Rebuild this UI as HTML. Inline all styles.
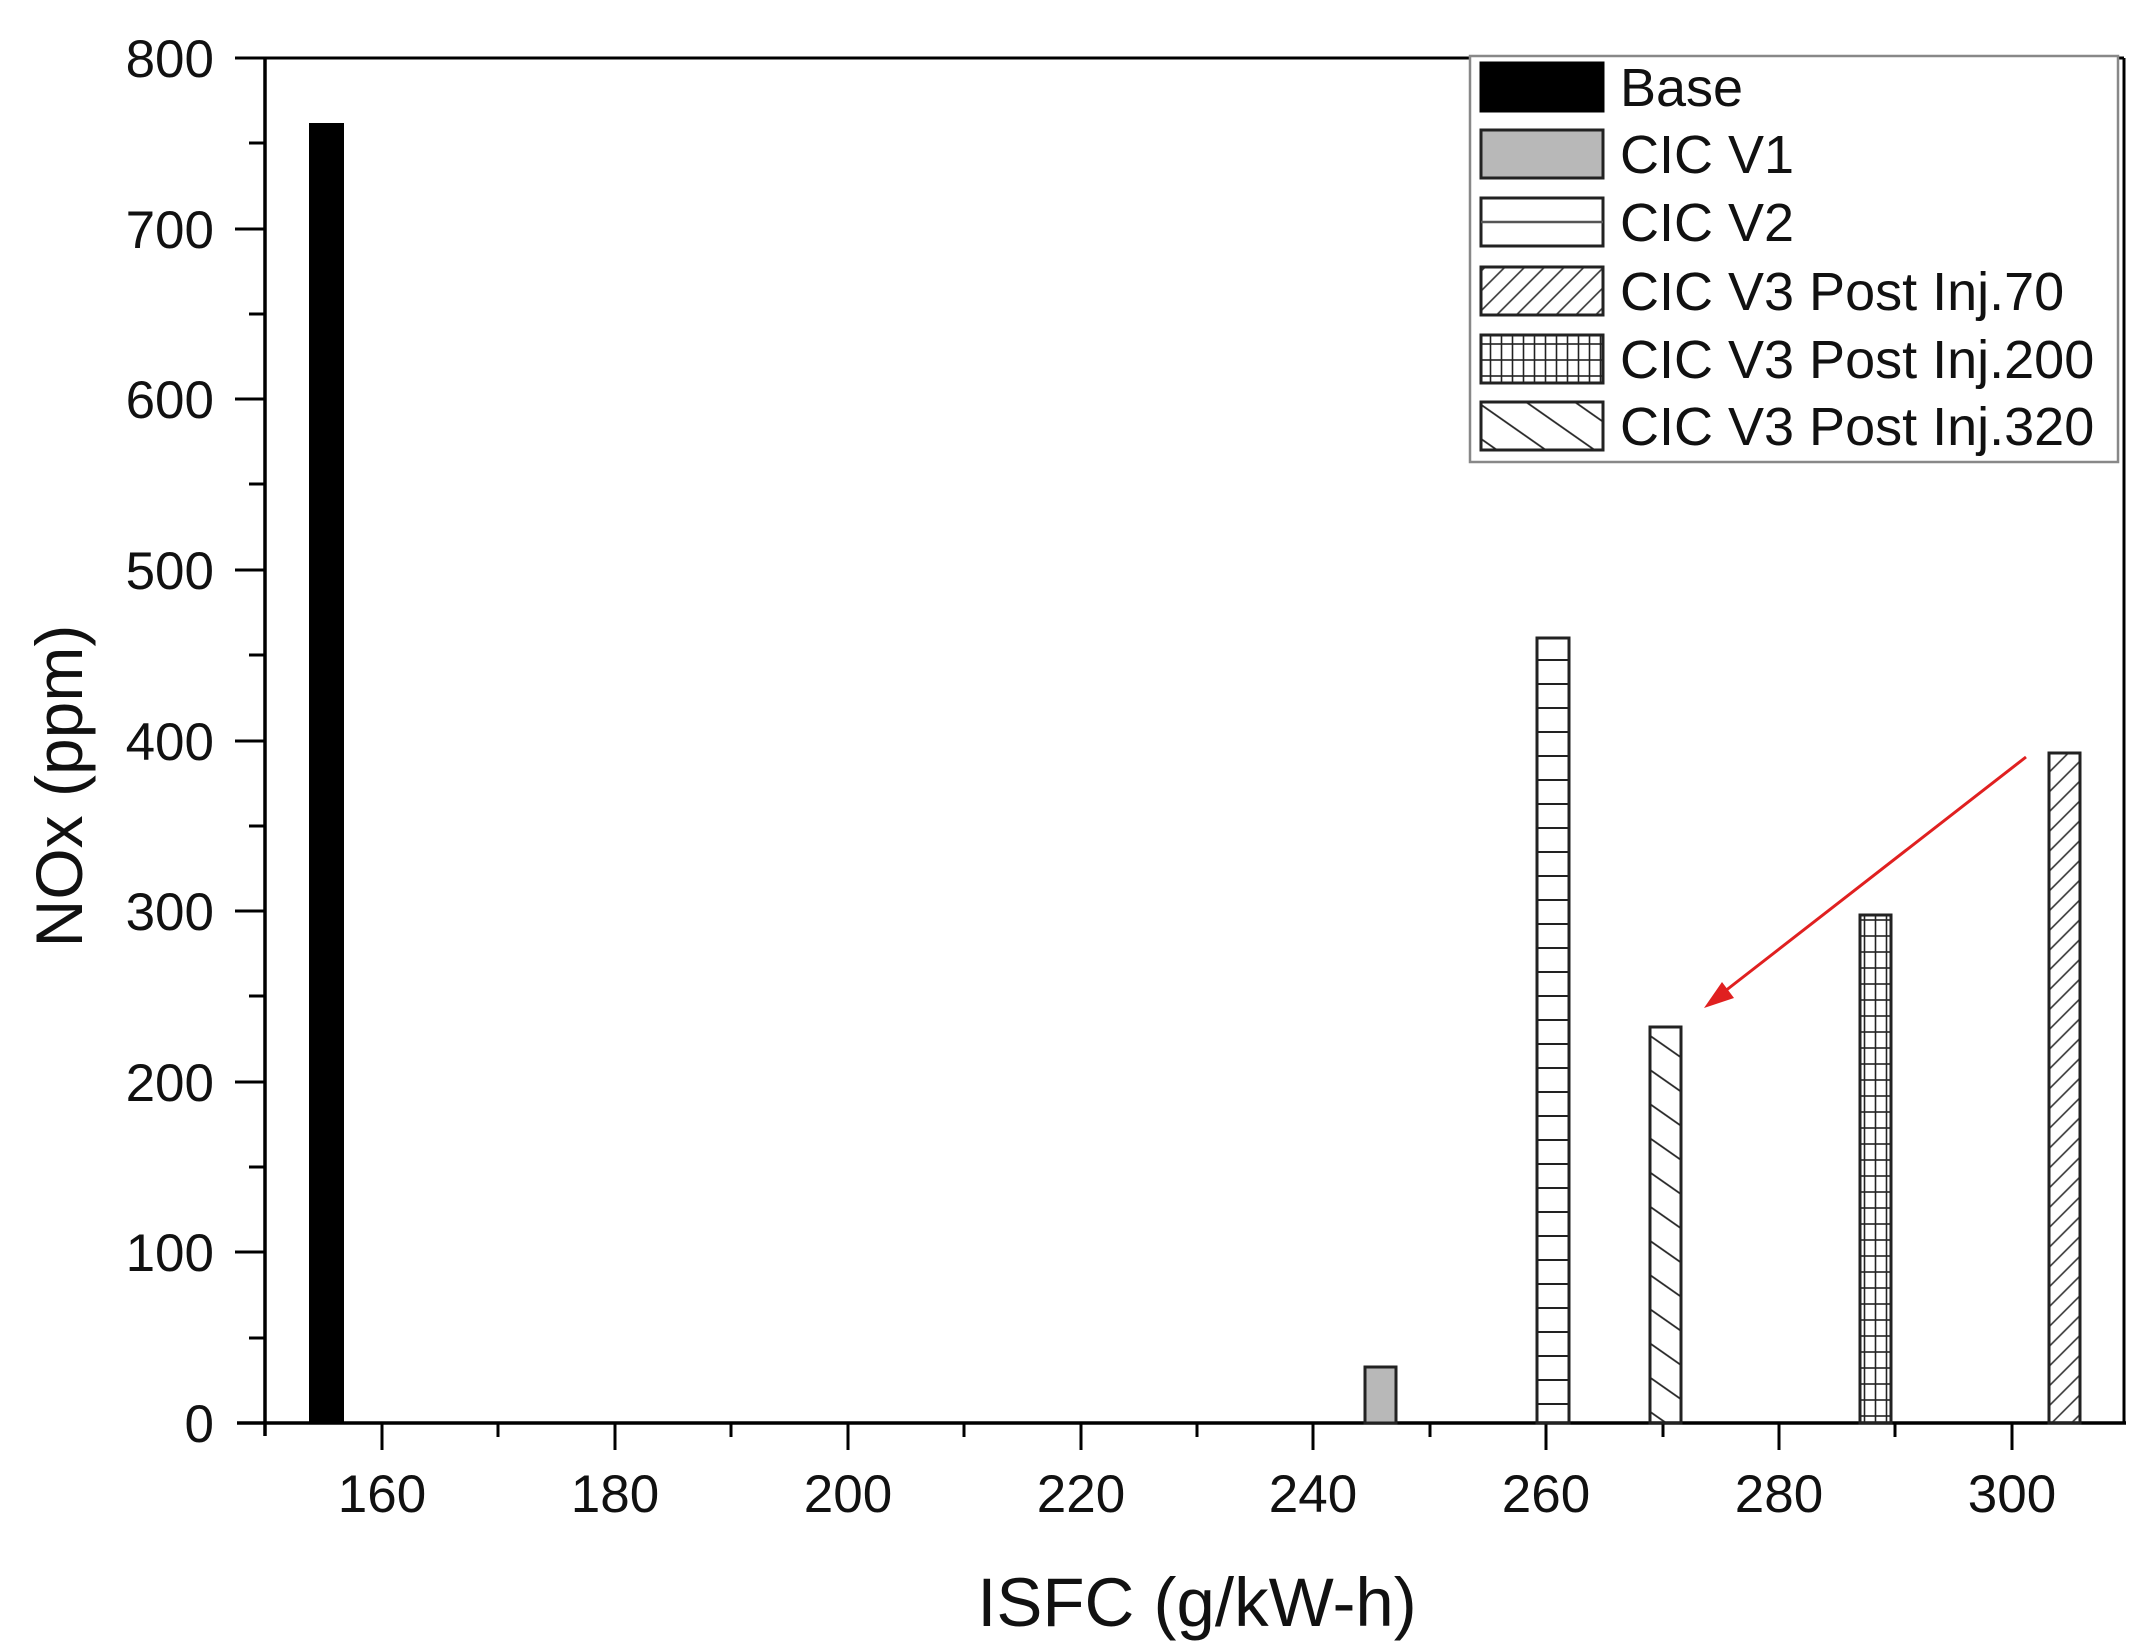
<!DOCTYPE html>
<html><head><meta charset="utf-8"><style>html,body{margin:0;padding:0;background:#fff}svg{display:block}</style></head>
<body>
<svg width="2156" height="1652" viewBox="0 0 2156 1652" xmlns="http://www.w3.org/2000/svg" font-family="Liberation Sans, Arial, sans-serif">
<defs>
<pattern id="hz" patternUnits="userSpaceOnUse" width="40" height="24"><line x1="0" y1="12" x2="40" y2="12" stroke="#222" stroke-width="2"/></pattern>
<pattern id="grid" patternUnits="userSpaceOnUse" width="11" height="16"><line x1="0" y1="8" x2="11" y2="8" stroke="#222" stroke-width="1.6"/><line x1="5.5" y1="0" x2="5.5" y2="16" stroke="#222" stroke-width="1.6"/></pattern>
<pattern id="d70" patternUnits="userSpaceOnUse" width="14" height="14" patternTransform="rotate(-45)"><line x1="0" y1="7" x2="14" y2="7" stroke="#333" stroke-width="1.6"/></pattern>
<pattern id="d320" patternUnits="userSpaceOnUse" width="28" height="28" patternTransform="rotate(35)"><line x1="0" y1="14" x2="28" y2="14" stroke="#222" stroke-width="1.8"/></pattern>
</defs>
<rect width="2156" height="1652" fill="#fff"/>
<line x1="265" y1="58" x2="2124" y2="58" stroke="#000" stroke-width="3"/>
<line x1="2124" y1="58" x2="2124" y2="1423" stroke="#000" stroke-width="3"/>
<line x1="237" y1="1423" x2="2126" y2="1423" stroke="#000" stroke-width="3.5"/>
<line x1="265" y1="58" x2="265" y2="1436" stroke="#000" stroke-width="3.5"/>
<line x1="235" y1="58" x2="265" y2="58" stroke="#000" stroke-width="3"/>
<g stroke="#000" stroke-width="3">
<line x1="235" y1="229" x2="265" y2="229"/><line x1="235" y1="399" x2="265" y2="399"/><line x1="235" y1="570" x2="265" y2="570"/><line x1="235" y1="741" x2="265" y2="741"/><line x1="235" y1="911" x2="265" y2="911"/><line x1="235" y1="1082" x2="265" y2="1082"/><line x1="235" y1="1252" x2="265" y2="1252"/>
<line x1="249" y1="143" x2="265" y2="143"/><line x1="249" y1="314" x2="265" y2="314"/><line x1="249" y1="484" x2="265" y2="484"/><line x1="249" y1="655" x2="265" y2="655"/><line x1="249" y1="826" x2="265" y2="826"/><line x1="249" y1="996" x2="265" y2="996"/><line x1="249" y1="1167" x2="265" y2="1167"/><line x1="249" y1="1338" x2="265" y2="1338"/>
<line x1="382" y1="1423" x2="382" y2="1450"/><line x1="615" y1="1423" x2="615" y2="1450"/><line x1="848" y1="1423" x2="848" y2="1450"/><line x1="1081" y1="1423" x2="1081" y2="1450"/><line x1="1313" y1="1423" x2="1313" y2="1450"/><line x1="1546" y1="1423" x2="1546" y2="1450"/><line x1="1779" y1="1423" x2="1779" y2="1450"/><line x1="2012" y1="1423" x2="2012" y2="1450"/>
<line x1="498" y1="1423" x2="498" y2="1437"/><line x1="731" y1="1423" x2="731" y2="1437"/><line x1="964" y1="1423" x2="964" y2="1437"/><line x1="1197" y1="1423" x2="1197" y2="1437"/><line x1="1430" y1="1423" x2="1430" y2="1437"/><line x1="1663" y1="1423" x2="1663" y2="1437"/><line x1="1895" y1="1423" x2="1895" y2="1437"/>
</g>
<g font-size="53" fill="#111" text-anchor="end">
<text x="214" y="77">800</text><text x="214" y="248">700</text><text x="214" y="418">600</text><text x="214" y="589">500</text><text x="214" y="760">400</text><text x="214" y="930">300</text><text x="214" y="1101">200</text><text x="214" y="1271">100</text><text x="214" y="1442">0</text>
</g>
<g font-size="53" fill="#111" text-anchor="middle">
<text x="382" y="1512">160</text><text x="615" y="1512">180</text><text x="848" y="1512">200</text><text x="1081" y="1512">220</text><text x="1313" y="1512">240</text><text x="1546" y="1512">260</text><text x="1779" y="1512">280</text><text x="2012" y="1512">300</text>
</g>
<text x="1197" y="1626" font-size="69" text-anchor="middle" fill="#111">ISFC (g/kW-h)</text>
<text transform="translate(82,786) rotate(-90)" font-size="66" text-anchor="middle" fill="#111">NOx (ppm)</text>
<rect x="310" y="124" width="33" height="1299" fill="#000" stroke="#000" stroke-width="2"/>
<rect x="1365" y="1367" width="31" height="56" fill="#b8b8b8" stroke="#222" stroke-width="3"/>
<rect x="1537" y="638" width="32" height="785" fill="url(#hz)" stroke="#222" stroke-width="3"/>
<rect x="1650" y="1027" width="31" height="396" fill="url(#d320)" stroke="#222" stroke-width="3"/>
<rect x="1860" y="915" width="31" height="508" fill="url(#grid)" stroke="#222" stroke-width="3"/>
<rect x="2049" y="753" width="31" height="670" fill="url(#d70)" stroke="#222" stroke-width="3"/>
<line x1="2026" y1="757" x2="1720" y2="995" stroke="#e02020" stroke-width="3"/>
<polygon points="1704,1008 1722,982 1734,998" fill="#e02020"/>
<rect x="1470" y="56" width="648" height="406" fill="#fff" stroke="#888" stroke-width="2.5"/>
<rect x="1481" y="63" width="122" height="48" fill="#000" stroke="#000" stroke-width="3"/>
<rect x="1481" y="130" width="122" height="48" fill="#b8b8b8" stroke="#222" stroke-width="3"/>
<rect x="1481" y="198" width="122" height="48" fill="#fff" stroke="#222" stroke-width="3"/>
<line x1="1481" y1="222" x2="1603" y2="222" stroke="#555" stroke-width="2.5"/>
<rect x="1481" y="267" width="122" height="48" fill="url(#d70)" stroke="#222" stroke-width="3"/>
<rect x="1481" y="335" width="122" height="48" fill="url(#grid)" stroke="#222" stroke-width="3"/>
<rect x="1481" y="402" width="122" height="48" fill="url(#d320)" stroke="#222" stroke-width="3"/>
<g font-size="54" fill="#111">
<text x="1620" y="106">Base</text><text x="1620" y="173">CIC V1</text><text x="1620" y="241">CIC V2</text><text x="1620" y="310">CIC V3 Post Inj.70</text><text x="1620" y="378">CIC V3 Post Inj.200</text><text x="1620" y="445">CIC V3 Post Inj.320</text>
</g>
</svg>
</body></html>
